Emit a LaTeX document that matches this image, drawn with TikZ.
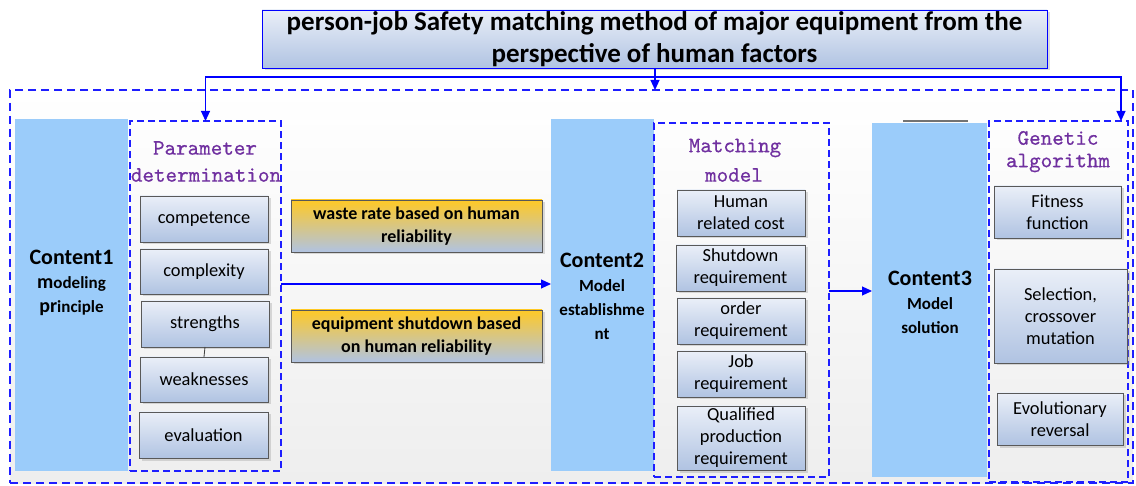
\documentclass[tikz,border=0pt]{standalone}
\usepackage{fontspec}
\setmainfont{Carlito}
\newfontfamily\headfont{lmmono10-regular.otf}[FakeBold=0.6]
\usetikzlibrary{shadows,arrows.meta}

\definecolor{lineblue}{RGB}{0,0,255}
\definecolor{dashblue}{RGB}{30,30,255}
\definecolor{contentblue}{RGB}{155,204,250}
\definecolor{boxtop}{RGB}{234,239,248}
\definecolor{boxbot}{RGB}{176,195,226}
\definecolor{gold}{RGB}{255,201,38}
\definecolor{headpurple}{RGB}{112,48,160}
\definecolor{panelgray}{RGB}{238,238,238}

\tikzset{
  every node/.style={inner sep=1pt, outer sep=0pt},
  softshadow/.style={drop shadow={shadow xshift=2.5pt, shadow yshift=-2.5pt, opacity=0.3, fill=black!45}},
  titlebox/.style={draw=lineblue, line width=0.9pt, top color=boxtop, bottom color=boxbot,
    softshadow, anchor=north west, align=center, font=\bfseries\fontsize{27}{32}\selectfont},
  itembox/.style={draw=black!65, line width=0.9pt, top color=boxtop, bottom color=boxbot,
    softshadow, anchor=north west, align=center, text=black, font=\fontsize{18.4}{22}\selectfont},
  goldbox/.style={draw=black!65, line width=0.9pt, top color=gold, bottom color=boxbot,
    softshadow, anchor=north west, align=center, font=\bfseries\fontsize{18}{23}\selectfont},
  contentbar/.style={fill=contentblue, anchor=north west},
  contentlabel/.style={align=center, font=\bfseries\fontsize{17}{24}\selectfont},
  groupbox/.style={draw=dashblue, line width=1.1pt, dash pattern=on 7pt off 4pt, anchor=north west},
  outerbox/.style={draw=dashblue, line width=1.1pt, dash pattern=on 8pt off 5pt, anchor=north west,
    top color=white, bottom color=panelgray},
  heading/.style={text=headpurple, font=\headfont\fontsize{22}{27}\selectfont},
  flow/.style={draw=lineblue, line width=1.1pt, -{Triangle[length=10pt,width=9pt]}},
  plain/.style={draw=black!75, line width=0.8pt},
}

\begin{document}
\begin{tikzpicture}[x=1pt,y=-1pt]
\useasboundingbox (0,0) rectangle (1136,486);

% frame around the three stages
\node[outerbox, minimum width=1123, minimum height=393] (outer) at (10,90) {};

% heading box
\node[titlebox, minimum width=785, minimum height=58] (title) at (262,10)
  {person-job Safety matching method of major equipment from the\\perspective of human factors};

% stage 1: modelling principle
\node[contentbar, minimum width=113, minimum height=352] (c1) at (15,119) {};
\node[contentlabel] (c1txt) at (71.5,283)
  {{\fontsize{22}{24}\selectfont Content1}\\{\fontsize{20}{24}\selectfont m}odeling\\{\fontsize{20}{24}\selectfont pr}inciple};
\node[groupbox, minimum width=151, minimum height=350] (param) at (130,121) {};
\node[heading] (paramA) at (205,148) {Parameter};
\node[heading] (paramB) at (206,175) {determination};
\node[itembox, minimum width=128, minimum height=46] (comp) at (140,196) {competence};
\node[itembox, minimum width=128, minimum height=45] (cplx) at (140,249) {complexity};
\node[itembox, minimum width=128, minimum height=46] (strg) at (141,301) {strengths};
\node[itembox, minimum width=128, minimum height=45] (weak) at (140,357) {weaknesses};
\node[itembox, minimum width=129, minimum height=46] (eval) at (139,412) {evaluation};
\draw[plain] (strg.south) -- (weak.north);

% reliability factors between stage 1 and stage 2
\node[goldbox, minimum width=251, minimum height=52] (waste) at (291,200)
  {waste rate based on human\\reliability};
\node[goldbox, minimum width=251, minimum height=52] (shut) at (291,310)
  {equipment shutdown based\\on human reliability};

% stage 2: model establishment
\node[contentbar, minimum width=103, minimum height=352] (c2) at (551,119) {};
\node[contentlabel] (c2txt) at (602,296)
  {{\fontsize{22}{24}\selectfont Content2}\\Model\\establishme\\nt};
\node[groupbox, minimum width=175, minimum height=354] (match) at (654,123) {};
\node[heading] (matchA) at (735,148) {Matching};
\node[heading] (matchB) at (734,175) {model};
\node[itembox, minimum width=128, minimum height=46] (hcost) at (677,190) {Human\\related cost};
\node[itembox, minimum width=129, minimum height=46] (sreq) at (676,245) {Shutdown\\requirement};
\node[itembox, minimum width=128, minimum height=46] (oreq) at (677,298) {order\\requirement};
\node[itembox, minimum width=128, minimum height=46] (jreq) at (677,351) {Job\\requirement};
\node[itembox, minimum width=128, minimum height=64] (qreq) at (677,406) {Qualified\\production\\requirement};

% stage 3: model solution
\draw[draw=black!55, line width=2pt] (903,121) -- (968,121);
\node[contentbar, minimum width=115, minimum height=354] (c3) at (872,123) {};
\node[contentlabel] (c3txt) at (930,302)
  {{\fontsize{22}{24}\selectfont Content3}\\Model\\solution};
\node[groupbox, minimum width=139, minimum height=361] (genetic) at (989,121) {};
\node[heading] (genA) at (1058,138) {Genetic};
\node[heading] (genB) at (1058,163) {algorithm};
\node[itembox, minimum width=127, minimum height=52] (fit) at (994,186) {Fitness\\function};
\node[itembox, minimum width=133, minimum height=94] (sel) at (994,269) {Selection,\\crossover\\mutation};
\node[itembox, minimum width=126, minimum height=52] (evo) at (997,393) {Evolutionary\\reversal};

% connectors
\coordinate (bus) at (655,77);
\coordinate (gentip) at (1121,121);
\draw[draw=lineblue, line width=1.1pt] (title.south -| bus) -- (bus);
\draw[flow] (bus) -- (bus |- outer.north);
\draw[flow] (bus) -| (param.north);
\draw[flow] (bus) -| (gentip);
\draw[flow] (param.east |- 0,284) -- (c2.west |- 0,284);
\draw[flow] (match.east |- 0,291) -- (c3.west |- 0,291);
\end{tikzpicture}
\end{document}
